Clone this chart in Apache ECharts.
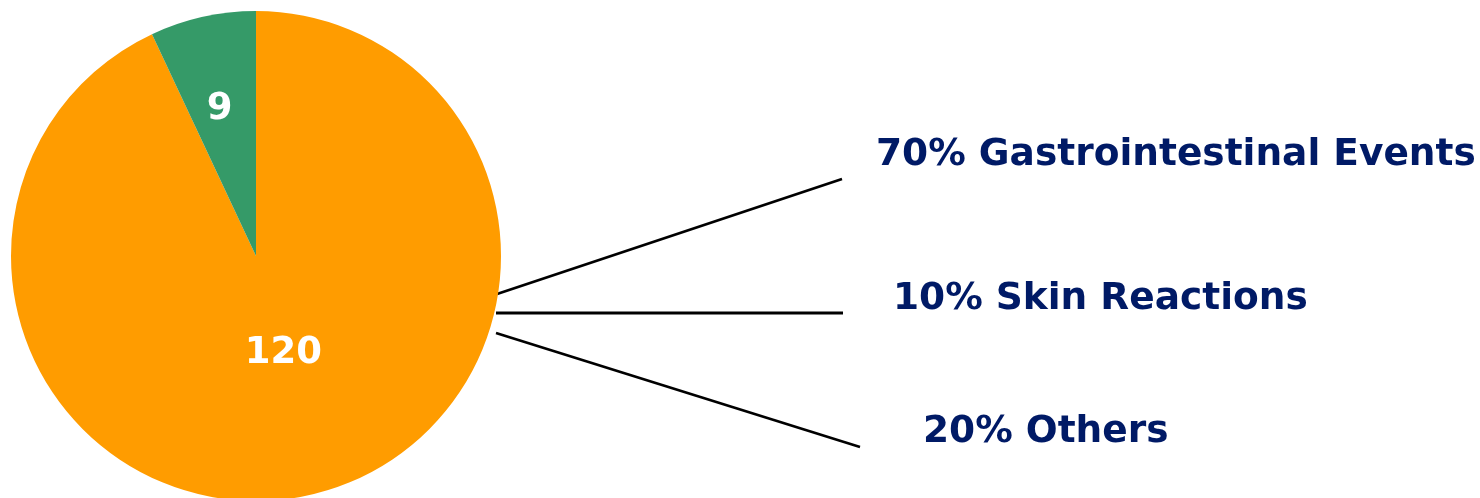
<!DOCTYPE html>
<html>
<head>
<meta charset="utf-8">
<script src="https://cdn.jsdelivr.net/npm/echarts@6/dist/echarts.min.js"></script>
<style>
html,body{margin:0;padding:0;background:#fff;}
#c{width:1480px;height:498px;}
</style>
</head>
<body>
<div id="c"></div>
<script>
// Pie data
var sliceNames = ['Main', 'Other'];
var sliceValues = [120, 9];
var sliceColors = ['#FF9C00', '#359A68'];
// Breakdown annotation
var breakdownPercents = ['70%', '10%', '20%'];
var breakdownNames = ['Gastrointestinal Events', 'Skin Reactions', 'Others'];

var FONT = '"DejaVu Sans", Verdana, sans-serif';
var NAVY = '#001A66';

var chart = echarts.init(document.getElementById('c'), null, {renderer: 'canvas'});

var labelOffsets = [[0, -25], [-9, -24]];
var pieData = sliceValues.map(function (v, i) {
  return {
    name: sliceNames[i],
    value: v,
    itemStyle: {color: sliceColors[i]},
    label: {offset: labelOffsets[i]}
  };
});

// leader lines & texts (annotation)
var lineDefs = [
  {from: [497, 294], to: [842, 179], w: 2.6},
  {from: [496, 313], to: [843, 313], w: 3},
  {from: [496, 333], to: [860, 447], w: 2.6}
];
var textPos = [[876, 155], [893, 299], [923, 432]];

var graphics = [];
lineDefs.forEach(function (l) {
  graphics.push({
    type: 'line',
    shape: {x1: l.from[0], y1: l.from[1], x2: l.to[0], y2: l.to[1]},
    style: {stroke: '#000', lineWidth: l.w},
    silent: true
  });
});
breakdownNames.forEach(function (n, i) {
  graphics.push({
    type: 'text',
    x: textPos[i][0],
    y: textPos[i][1],
    style: {
      text: breakdownPercents[i] + ' ' + n,
      fill: NAVY,
      font: 'bold 37.5px ' + FONT,
      textAlign: 'left',
      textVerticalAlign: 'middle'
    },
    silent: true
  });
});

chart.setOption({
  animation: false,
  backgroundColor: '#ffffff',
  series: [{
    type: 'pie',
    center: [256, 256],
    radius: [0, 245],
    startAngle: 90,
    clockwise: true,
    avoidLabelOverlap: false,
    itemStyle: {borderWidth: 0},
    label: {
      show: true,
      position: 'inside',
      formatter: '{c}',
      color: '#ffffff',
      fontFamily: FONT,
      fontWeight: 'bold',
      fontSize: 37
    },
    labelLine: {show: false},
    emphasis: {disabled: true},
    data: pieData
  }],
  graphic: graphics
});
</script>
</body>
</html>
